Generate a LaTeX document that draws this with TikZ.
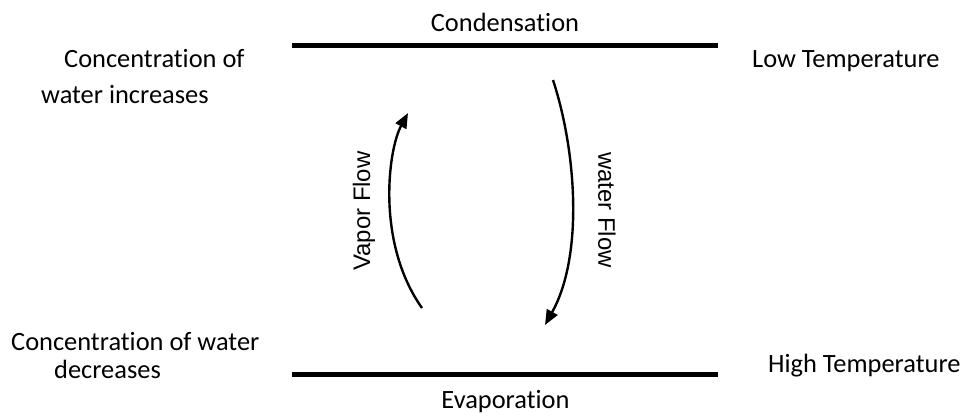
\documentclass[tikz,border=0pt]{standalone}
\usepackage{fontspec}
\setmainfont[Ligatures=NoCommon]{Carlito}
\newfontfamily\arialfont{Liberation Sans}
\usetikzlibrary{arrows.meta}
\begin{document}
\begin{tikzpicture}[x=1bp,y=-1bp,
  label/.style={inner sep=0pt,font=\fontsize{26.5}{31}\selectfont},
  flowlabel/.style={inner sep=0pt,font=\arialfont\fontsize{24}{28}\selectfont},
  plate/.style={line width=5.5bp},
  flow/.style={line width=2.4bp,-{Triangle[length=15bp,width=12bp]}}]
\useasboundingbox (0,0) rectangle (968,412);
% plates
\coordinate (topL) at (292,45.5);
\coordinate (topR) at (718,45.5);
\coordinate (botL) at (292,374.5);
\coordinate (botR) at (718,374.5);
\draw[plate] (topL) -- (topR);
\draw[plate] (botL) -- (botR);
% plate labels
\node[label,anchor=base] (cond) at (505,31.7) {Condensation};
\node[label,anchor=base] (evap) at (505.5,408.3) {Evaporation};
% side labels
\node[label,anchor=base west] (ci1) at (64,67) {Concentration of};
\node[label,anchor=base west] (ci2) at (41,103.5) {water increases};
\node[label,anchor=base west] (cd1) at (11,350) {Concentration of water};
\node[label,anchor=base west] (cd2) at (54,378.5) {decreases};
\node[label,anchor=base west] (lowT) at (752,67) {Low Temperature};
\node[label,anchor=base west] (highT) at (768,372) {High Temperature};
% flows
\coordinate (vs) at (422,308);
\coordinate (ve) at (408,113);
\coordinate (ws) at (553,80);
\coordinate (we) at (545,325);
\draw[flow] (vs) .. controls (376,243) and (388,150) .. (ve);
\draw[flow] (ws) .. controls (576,150) and (584,255) .. (we);
\node[flowlabel,rotate=90] (vlab) at (364,211) {Vapor Flow};
\node[flowlabel,rotate=-90] (wlab) at (607,210) {water Flow};
\end{tikzpicture}
\end{document}
